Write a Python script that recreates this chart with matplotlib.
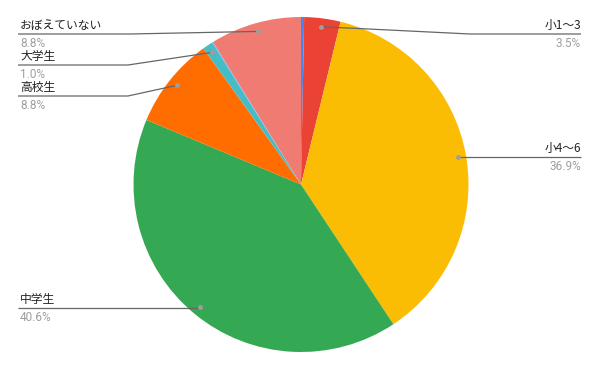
import numpy as np
import matplotlib
matplotlib.use('Agg')
import matplotlib.pyplot as plt

# data (clockwise from 12 o'clock)
labels = ['未就学', '小1～3', '小4～6', '中学生', '高校生', '大学生', '社会人', 'おぼえていない']
values = [0.3, 3.5, 36.9, 40.6, 8.8, 1.0, 0.1, 8.8]
colors = ['#4285F4', '#EA4335', '#FBBC04', '#34A853', '#FF6D01', '#46BDC6', '#7BAAF7', '#F07B72']
pct_text = ['', '3.5%', '36.9%', '40.6%', '8.8%', '1.0%', '', '8.8%']

W, H = 600, 371
cx, cy, R = 301, H - 184.5, 167.5

fig = plt.figure(figsize=(6, 3.71), dpi=100)
ax = fig.add_axes([0, 0, 1, 1])

wedges, _ = ax.pie(values, colors=colors, startangle=90, counterclock=False,
                   center=(cx, cy), radius=R, normalize=True,
                   wedgeprops=dict(linewidth=0))
ax.set_xlim(0, W)
ax.set_ylim(0, H)
ax.set_aspect('equal')
ax.axis('off')

# label placement: (index, side, line y in px from top, elbow x)
label_pos = [
    (7, 'left', 34, 130),
    (5, 'left', 65, 128),
    (4, 'left', 96, 128),
    (3, 'left', 308, None),
    (1, 'right', 34, 470),
    (2, 'right', 157, None),
]

name_font = ['Noto Sans CJK JP', 'DejaVu Sans']
for i, side, ly, elbow in label_pos:
    w = wedges[i]
    mid = np.radians((w.theta1 + w.theta2) / 2)
    dx = cx + 0.95 * R * np.cos(mid)
    dy = cy + 0.95 * R * np.sin(mid)
    y = H - ly
    if side == 'left':
        x0, ha = 18, 'left'
        tx = 20
    else:
        x0, ha = 581, 'right'
        tx = 581
    if elbow is None:
        xs, ys = [x0, dx], [y, y]
    else:
        xs, ys = [x0, elbow, dx], [y, y, dy]
    ax.plot(xs, ys, color='#666666', lw=0.9, solid_capstyle='butt', zorder=3)
    ax.plot(dx, dy, 'o', ms=3.5, color='#9e9e9e', mec='none', zorder=4)
    ax.text(tx, y + 2, labels[i], ha=ha, va='bottom', fontsize=8.5,
            family=name_font, color='#222222')
    ax.text(tx, y - 3, pct_text[i], ha=ha, va='top', fontsize=8.5,
            family=['Roboto', 'DejaVu Sans'], color='#9e9e9e')

fig.savefig('out.png', dpi=100)
